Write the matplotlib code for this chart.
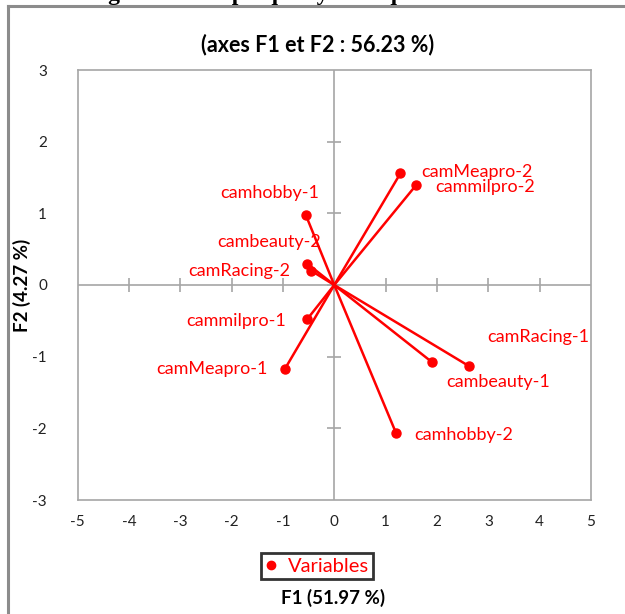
import matplotlib
matplotlib.use("Agg")
import matplotlib.pyplot as plt
from matplotlib.lines import Line2D

# Category coordinates on the first two factorial axes
categories = ["camMeapro-2", "cammilpro-2", "camhobby-1", "cambeauty-2", "camRacing-2",
              "cammilpro-1", "camMeapro-1", "cambeauty-1", "camRacing-1", "camhobby-2"]
f1 = [1.29, 1.59, -0.55, -0.53, -0.45, -0.53, -0.96, 1.91, 2.62, 1.20]
f2 = [1.56, 1.39, 0.97, 0.30, 0.20, -0.48, -1.17, -1.08, -1.13, -2.06]

ticks_x = [-5, -4, -3, -2, -1, 0, 1, 2, 3, 4, 5]
ticks_y = [-3, -2, -1, 0, 1, 2, 3]

title = "(axes F1 et F2 : 56.23 %)"
xlabel = "F1 (51.97 %)"
ylabel = "F2 (4.27 %)"
legend_label = "Variables"
caption = "Figure 4 : Graphique symétrique des variables"

# Label anchor positions (data units) and horizontal alignment
label_pos = {
    "camMeapro-2": (1.69, 1.58, "left"),
    "cammilpro-2": (1.97, 1.37, "left"),
    "camhobby-1": (-0.30, 1.29, "right"),
    "cambeauty-2": (-0.26, 0.60, "right"),
    "camRacing-2": (-0.85, 0.20, "right"),
    "cammilpro-1": (-0.94, -0.50, "right"),
    "camMeapro-1": (-1.29, -1.17, "right"),
    "camRacing-1": (2.98, -0.73, "left"),
    "cambeauty-1": (2.18, -1.35, "left"),
    "camhobby-2": (1.56, -2.09, "left"),
}

RED = "#ff0000"
GRAY = "#a6a6a6"
FONT = ["Lato", "DejaVu Sans"]

W, H = 625, 614
fig = plt.figure(figsize=(W / 100, H / 100), dpi=100)
fig.patch.set_facecolor("white")

ax = fig.add_axes([77.5 / W, 1 - 500 / H, (591 - 77.5) / W, (500 - 70) / H])
ax.set_xlim(ticks_x[0], ticks_x[-1])
ax.set_ylim(ticks_y[0], ticks_y[-1])
for s in ax.spines.values():
    s.set_color(GRAY)
    s.set_linewidth(1.2)

# Central axes with cross ticks
ax.axhline(0, color=GRAY, lw=1.2, zorder=1)
ax.axvline(0, color=GRAY, lw=1.2, zorder=1)
ax.plot(ticks_x[1:-1], [0] * len(ticks_x[1:-1]), ls="none", marker="|",
        ms=10, mew=1.2, color=GRAY, zorder=1)
ax.plot([0] * len(ticks_y[1:-1]), ticks_y[1:-1], ls="none", marker="_",
        ms=10, mew=1.2, color=GRAY, zorder=1)

ax.set_xticks(ticks_x)
ax.set_yticks(ticks_y)
ax.set_xticklabels([str(t) for t in ticks_x], fontfamily=FONT, fontsize=11, color="#222222")
ax.set_yticklabels([str(t) for t in ticks_y], fontfamily=FONT, fontsize=11, color="#222222")
ax.tick_params(axis="x", length=0, pad=11)
ax.tick_params(axis="y", length=0, pad=22)

# Vectors from the origin
for name, x, y in zip(categories, f1, f2):
    ax.plot([0, x], [0, y], color=RED, lw=1.8, solid_capstyle="round", zorder=3)
    ax.plot(x, y, "o", color=RED, ms=6.5, zorder=4)
    lx, ly, ha = label_pos[name]
    ax.text(lx, ly, name, color=RED, fontsize=13, fontfamily=FONT,
            ha=ha, va="center", zorder=5)

fig.text(318 / W, 1 - 45 / H, title, ha="center", va="center",
         fontsize=15.5, fontweight="bold", fontfamily=FONT)
fig.text(333 / W, 1 - 598 / H, xlabel, ha="center", va="center",
         fontsize=13.5, fontweight="bold", fontfamily=FONT)
fig.text(22 / W, 1 - 285 / H, ylabel, ha="center", va="center", rotation=90,
         fontsize=13.5, fontweight="bold", fontfamily=FONT)

# Legend
handle = Line2D([], [], ls="none", marker="o", color=RED, ms=6)
leg = fig.legend([handle], [legend_label], loc="center",
                 bbox_to_anchor=(317 / W, 1 - 566 / H), frameon=True,
                 fancybox=False, handlelength=0.6, handletextpad=0.5,
                 borderpad=0.2, borderaxespad=0, prop={"family": FONT, "size": 14.5})
for t in leg.get_texts():
    t.set_color(RED)
leg.get_frame().set_edgecolor("black")
leg.get_frame().set_linewidth(2)

# Outer chart frame
fig.add_artist(Line2D([7.5 / W, 7.5 / W], [0, 1 - 6 / H], transform=fig.transFigure,
                      color="#8c8c8c", lw=2.2))
fig.add_artist(Line2D([7.5 / W, 1], [1 - 6 / H, 1 - 6 / H], transform=fig.transFigure,
                      color="#8c8c8c", lw=2.2))

# Caption above the chart (mostly beyond the top edge)
fig.text(322 / W, 1 + 0.5 / H, caption, ha="center", va="baseline",
         fontsize=17, fontweight="bold", fontfamily=["Liberation Serif", "DejaVu Serif"])

fig.savefig("out.png", dpi=100, facecolor="white")
